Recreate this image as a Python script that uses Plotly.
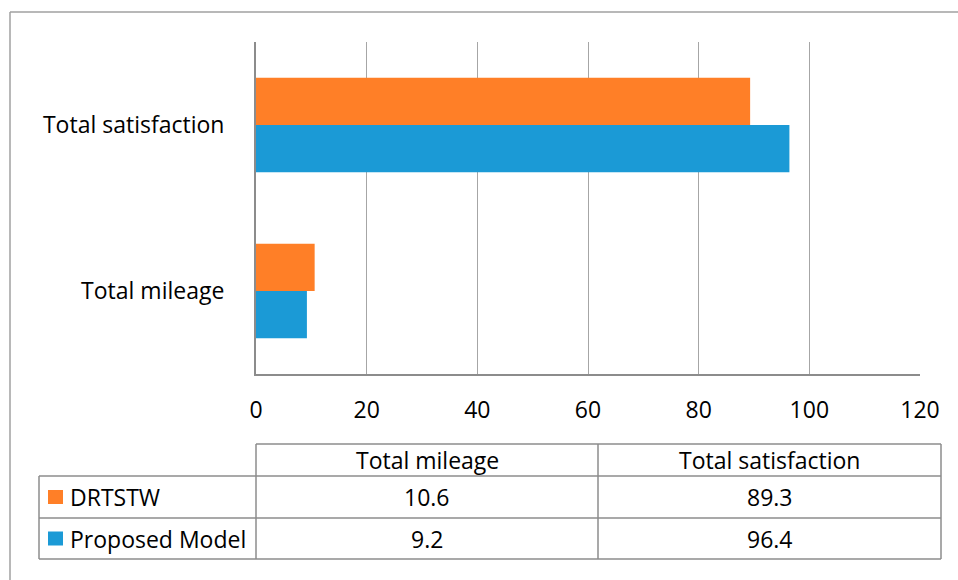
import plotly.graph_objects as go

categories = ["Total mileage", "Total satisfaction"]
series_names = ["DRTSTW", "Proposed Model"]
drtstw = [10.6, 89.3]
proposed = [9.2, 96.4]
x_ticks = [0, 20, 40, 60, 80, 100, 120]

ORANGE = "#FF7F27"
BLUE = "#1B9AD6"
W, H = 958, 580
FONT = "Open Sans"
FS = 23
GRID = "#A6A6A6"
LINE = "#8C8C8C"


def px(x):
    return x / W


def py(y):
    return 1 - y / H


fig = go.Figure()
fig.add_trace(go.Bar(y=categories, x=proposed, orientation="h", name=series_names[1],
                     marker=dict(color=BLUE, line=dict(width=0))))
fig.add_trace(go.Bar(y=categories, x=drtstw, orientation="h", name=series_names[0],
                     marker=dict(color=ORANGE, line=dict(width=0))))

fig.update_layout(
    width=W, height=H, autosize=False,
    margin=dict(l=0, r=0, t=0, b=0, pad=0),
    paper_bgcolor="white", plot_bgcolor="white",
    barmode="group", bargap=0.43, bargroupgap=0,
    showlegend=False,
    font=dict(family=FONT, size=FS, color="black"),
    xaxis=dict(domain=[px(256), px(920)], range=[0, 120], tickvals=x_ticks,
               showgrid=True, gridcolor=GRID, gridwidth=1.3,
               showline=True, linecolor=LINE, linewidth=2,
               zeroline=False, ticks="", ticklabelstandoff=14, automargin=False,
               tickfont=dict(family=FONT, size=FS)),
    yaxis=dict(domain=[py(374), py(42)], showgrid=False,
               showline=True, linecolor=LINE, linewidth=2,
               ticks="", ticklabelstandoff=25, automargin=False,
               tickfont=dict(family=FONT, size=FS)),
)

shapes = []
# outer chart frame (top and left visible)
shapes.append(dict(type="line", xref="paper", yref="paper", x0=px(10), x1=px(958), y0=py(12), y1=py(12),
                   line=dict(color="#A0A0A0", width=1.5)))
shapes.append(dict(type="line", xref="paper", yref="paper", x0=px(10), x1=px(10), y0=py(12), y1=py(580),
                   line=dict(color="#A0A0A0", width=1.5)))

# data table geometry
tx0, tx1, tx2, tx3 = 39, 256, 598, 941
ty0, ty1, ty2, ty3 = 444, 476, 518, 559
tl = dict(color=LINE, width=1.5)


def hline(x0, x1, y):
    shapes.append(dict(type="line", xref="paper", yref="paper", x0=px(x0), x1=px(x1), y0=py(y), y1=py(y), line=tl))


def vline(x, y0, y1):
    shapes.append(dict(type="line", xref="paper", yref="paper", x0=px(x), x1=px(x), y0=py(y0), y1=py(y1), line=tl))


hline(tx1, tx3, ty0)
hline(tx0, tx3, ty1)
hline(tx0, tx3, ty2)
hline(tx0, tx3, ty3)
vline(tx0, ty1, ty3)
vline(tx1, ty0, ty3)
vline(tx2, ty0, ty3)
vline(tx3, ty0, ty3)

annotations = []
col_centers = [(tx1 + tx2) / 2, (tx2 + tx3) / 2]
for c, cat in enumerate(categories):
    annotations.append(dict(x=px(col_centers[c]), y=py((ty0 + ty1) / 2), xref="paper", yref="paper",
                            text=cat, showarrow=False, xanchor="center", yanchor="middle",
                            font=dict(family=FONT, size=FS)))

rows = [(series_names[0], drtstw, ORANGE), (series_names[1], proposed, BLUE)]
row_bounds = [(ty1, ty2), (ty2, ty3)]
for (name, vals, col), (r0, r1) in zip(rows, row_bounds):
    yc = (r0 + r1) / 2
    shapes.append(dict(type="rect", xref="paper", yref="paper", x0=px(48), x1=px(63),
                       y0=py(yc - 7), y1=py(yc + 7), fillcolor=col, line=dict(width=0)))
    annotations.append(dict(x=px(68), y=py(yc), xref="paper", yref="paper", text=name,
                            showarrow=False, xanchor="left", yanchor="middle",
                            font=dict(family=FONT, size=FS)))
    for c, v in enumerate(vals):
        annotations.append(dict(x=px(col_centers[c]), y=py(yc), xref="paper", yref="paper",
                                text=f"{v:.1f}", showarrow=False, xanchor="center", yanchor="middle",
                                font=dict(family=FONT, size=FS)))

fig.update_layout(shapes=shapes, annotations=annotations)
fig.write_html("out.html", config={"responsive": False})
